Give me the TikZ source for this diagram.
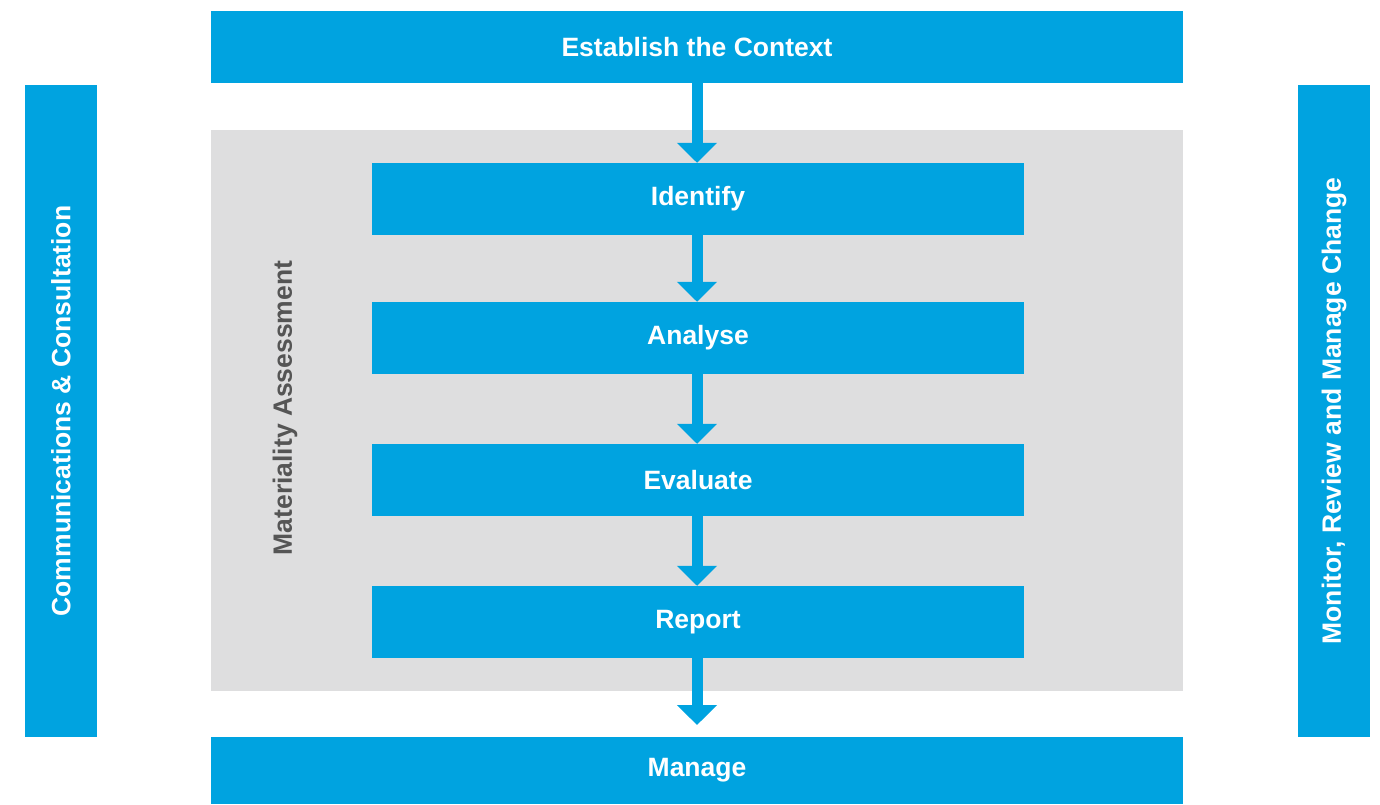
\documentclass[tikz,border=0pt]{standalone}
\usepackage{fontspec}
\setmainfont{Liberation Sans}
\usetikzlibrary{arrows.meta}
\definecolor{mblue}{HTML}{00A3E0}
\definecolor{mgrey}{HTML}{DEDEDF}
\definecolor{mtext}{HTML}{555555}
\begin{document}
\begin{tikzpicture}[x=1pt,y=-1pt,
  box/.style={fill=mblue,draw=none,inner sep=0pt,font=\fontsize{26.5}{30}\selectfont\bfseries,text=white},
  flow/.style={draw=mblue,line width=11pt,-{Triangle[length=20pt,width=39pt]},shorten >=0pt}]
\useasboundingbox (0,0) rectangle (1380,804);
\fill[mgrey] (211,130) rectangle (1183,691);
\node[box,minimum width=972pt,minimum height=72pt] (ctx) at (697,47) {Establish the Context};
\node[box,minimum width=652pt,minimum height=72pt] (id) at (698,199) {Identify};
\node[box,minimum width=652pt,minimum height=72pt] (an) at (698,338) {Analyse};
\node[box,minimum width=652pt,minimum height=72pt] (ev) at (698,480) {Evaluate};
\node[box,minimum width=652pt,minimum height=72pt] (rep) at (698,622) {Report};
\node[box,minimum width=972pt,minimum height=67pt] (man) at (697,770.5) {Manage};
\node[box,minimum width=652pt,minimum height=72pt,rotate=90] (comm) at (61,411) {Communications \& Consultation};
\node[box,minimum width=652pt,minimum height=72pt,rotate=90] (mon) at (1334,411) {Monitor, Review and Manage Change};
\node[font=\fontsize{26.5}{30}\selectfont\bfseries,text=mtext,rotate=90,inner sep=0pt] (mat) at (285,408) {Materiality Assessment};
\coordinate (a1s) at (697,83);
\draw[flow] (ctx.south -| a1s) -- (id.north -| a1s);
\draw[flow] (id.south -| a1s) -- (an.north -| a1s);
\draw[flow] (an.south -| a1s) -- (ev.north -| a1s);
\draw[flow] (ev.south -| a1s) -- (rep.north -| a1s);
\coordinate (a5e) at (697,725);
\draw[flow] (rep.south -| a1s) -- (a5e);
\end{tikzpicture}
\end{document}
